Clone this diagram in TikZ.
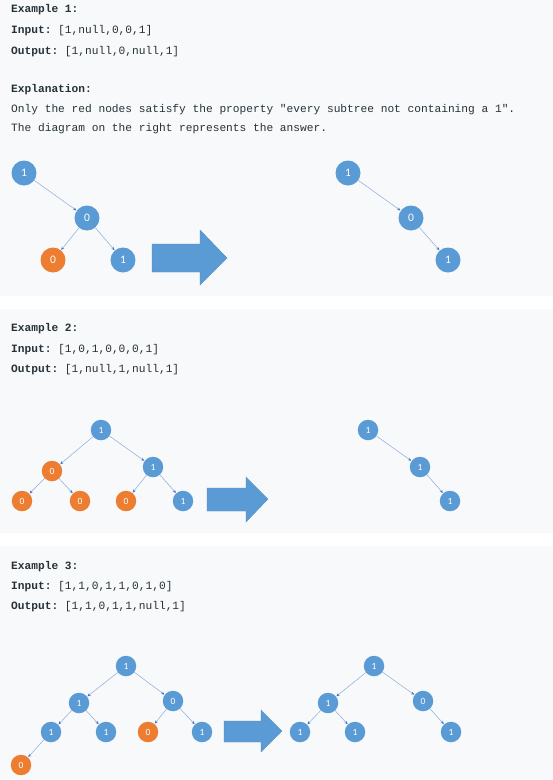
\documentclass[tikz,border=0pt]{standalone}
\usepackage{fontspec}
\setmonofont{Liberation Mono}
\newfontfamily\nodefont{Carlito}
\usetikzlibrary{arrows.meta}
\definecolor{panelbg}{HTML}{F7F9FA}
\definecolor{txt}{HTML}{263238}
\definecolor{nblue}{HTML}{5B9BD5}
\definecolor{norange}{HTML}{ED7D31}
\definecolor{eline}{HTML}{8FAADC}
\definecolor{etip}{HTML}{4472C4}
\tikzset{
  txtline/.style={anchor=west, inner sep=0pt, text=txt, font=\ttfamily\fontsize{11.2}{13}\selectfont},
  bn/.style={circle, fill=nblue, text=white, inner sep=0pt, minimum size=20.5pt, font=\nodefont\fontsize{9.5}{10}\selectfont},
  on/.style={bn, fill=norange},
  bnbig/.style={bn, minimum size=25pt, font=\nodefont\fontsize{11.5}{12}\selectfont},
  onbig/.style={bnbig, fill=norange},
  edge/.style={draw=eline, line width=0.5pt, -{Stealth[length=3.2pt,width=2.8pt,etip]}, shorten >=0.3pt},
  bigarrow/.style={fill=nblue, draw=nblue!85!black, line width=0.3pt}
}
\begin{document}
\begin{tikzpicture}[x=1pt,y=-1pt]
\useasboundingbox (0,0) rectangle (553,780);
\fill[white] (0,0) rectangle (553,780);
\fill[panelbg] (0,0) rectangle (553,296);
\fill[panelbg] (0,309) rectangle (553,533);
\fill[panelbg] (0,546) rectangle (553,780);

% ---------- Example 1 ----------
\node[txtline] (t1a) at (11,10) {\textbf{Example 1:}};
\node[txtline] (t1b) at (11,31) {\textbf{Input:} [1,null,0,0,1]};
\node[txtline] (t1c) at (11,52) {\textbf{Output:} [1,null,0,null,1]};
\node[txtline] (t1d) at (11,90) {\textbf{Explanation:}};
\node[txtline] (t1e) at (11,110) {Only the red nodes satisfy the property "every subtree not containing a 1".};
\node[txtline] (t1f) at (11,129) {The diagram on the right represents the answer.};

\node[bnbig] (a1) at (24,173) {1};
\node[bnbig] (a2) at (87,218) {0};
\node[onbig] (a3) at (53,260) {0};
\node[bnbig] (a4) at (123,260) {1};
\draw[edge] (a1) -- (a2);
\draw[edge] (a2) -- (a3);
\draw[edge] (a2) -- (a4);

\draw[bigarrow] (152,244) -- (200,244) -- (200,230) -- (227,258) -- (200,285) -- (200,272) -- (152,272) -- cycle;

\node[bnbig] (b1) at (348,173) {1};
\node[bnbig] (b2) at (411,218) {0};
\node[bnbig] (b3) at (448,260) {1};
\draw[edge] (b1) -- (b2);
\draw[edge] (b2) -- (b3);

% ---------- Example 2 ----------
\node[txtline] (t2a) at (11,329) {\textbf{Example 2:}};
\node[txtline] (t2b) at (11,350) {\textbf{Input:} [1,0,1,0,0,0,1]};
\node[txtline] (t2c) at (11,370) {\textbf{Output:} [1,null,1,null,1]};

\node[bn] (c1) at (101,430) {1};
\node[on] (c2) at (52,471) {0};
\node[bn] (c3) at (153,467) {1};
\node[on] (c4) at (22,501) {0};
\node[on] (c5) at (80,501) {0};
\node[on] (c6) at (126,501) {0};
\node[bn] (c7) at (183,501) {1};
\draw[edge] (c1) -- (c2);
\draw[edge] (c1) -- (c3);
\draw[edge] (c2) -- (c4);
\draw[edge] (c2) -- (c5);
\draw[edge] (c3) -- (c6);
\draw[edge] (c3) -- (c7);

\draw[bigarrow] (207,488) -- (246,488) -- (246,477) -- (268,499) -- (246,522) -- (246,511) -- (207,511) -- cycle;

\node[bn] (d1) at (368,430) {1};
\node[bn] (d2) at (420,467) {1};
\node[bn] (d3) at (450,501) {1};
\draw[edge] (d1) -- (d2);
\draw[edge] (d2) -- (d3);

% ---------- Example 3 ----------
\node[txtline] (t3a) at (11,567) {\textbf{Example 3:}};
\node[txtline] (t3b) at (11,587) {\textbf{Input:} [1,1,0,1,1,0,1,0]};
\node[txtline] (t3c) at (11,607) {\textbf{Output:} [1,1,0,1,1,null,1]};

\node[bn] (e1) at (126,666) {1};
\node[bn] (e2) at (79,703) {1};
\node[bn] (e3) at (173,701) {0};
\node[bn] (e4) at (51,732) {1};
\node[bn] (e5) at (106,732) {1};
\node[on] (e6) at (148,732) {0};
\node[bn] (e7) at (202,732) {1};
\node[on] (e8) at (21,765) {0};
\draw[edge] (e1) -- (e2);
\draw[edge] (e1) -- (e3);
\draw[edge] (e2) -- (e4);
\draw[edge] (e2) -- (e5);
\draw[edge] (e3) -- (e6);
\draw[edge] (e3) -- (e7);
\draw[edge] (e4) -- (e8);

\draw[bigarrow] (224,721) -- (261,721) -- (261,710) -- (282,731) -- (261,752) -- (261,742) -- (224,742) -- cycle;

\node[bn] (f1) at (374,666) {1};
\node[bn] (f2) at (328,703) {1};
\node[bn] (f3) at (423,701) {0};
\node[bn] (f4) at (300,732) {1};
\node[bn] (f5) at (355,732) {1};
\node[bn] (f6) at (451,732) {1};
\draw[edge] (f1) -- (f2);
\draw[edge] (f1) -- (f3);
\draw[edge] (f2) -- (f4);
\draw[edge] (f2) -- (f5);
\draw[edge] (f3) -- (f6);
\end{tikzpicture}
\end{document}
